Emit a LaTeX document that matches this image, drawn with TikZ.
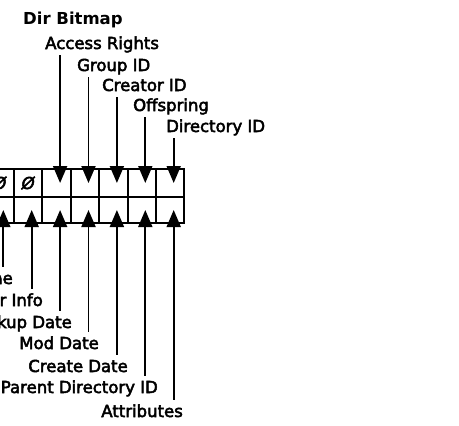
\documentclass[tikz,border=0pt]{standalone}
\usepackage{fontspec}
\setmainfont{DejaVu Sans}
\usetikzlibrary{arrows.meta,positioning}

\newcommand{\bitfont}{\fontsize{16.5}{19}\selectfont\special{pdf:literal direct 2 Tr 0.5 w}}

\begin{document}
\begin{tikzpicture}[
    x=1pt, y=-1pt,
    node distance=0pt,
    font=\bitfont,
    cell/.style={draw, line width=1.9pt, minimum width=28.4pt, inner sep=0pt, outer sep=0pt, font=\bitfont\itshape},
    upcell/.style={cell, minimum height=28pt},
    lowcell/.style={cell, minimum height=26pt},
    lbl/.style={inner xsep=0pt, inner ysep=2pt, text height=12pt, text depth=4pt},
    lbllow/.style={lbl, inner ysep=5pt},
    arrow/.style={-{Triangle[length=17pt, width=14pt]}, line width=1.9pt, transform canvas={xshift=3.5pt}},
]
    \useasboundingbox (0,0) rectangle (459,426);
    \clip (0,0) rectangle (459,426);

    \node[lbl, font=\fontsize{16.5}{19}\selectfont\bfseries, anchor=base west] (title) at (23,24) {Dir Bitmap};

    \node[upcell] (t14) at (-0.2,183) {Ø};
    \node[upcell, right=of t14] (t13) {Ø};
    \node[upcell, right=of t13] (t12) {};
    \node[upcell, right=of t12] (t11) {};
    \node[upcell, right=of t11] (t10) {};
    \node[upcell, right=of t10] (t9) {};
    \node[upcell, right=of t9] (t8) {};

    \node[lowcell, below=of t14] (b6) {};
    \node[lowcell, right=of b6] (b5) {};
    \node[lowcell, right=of b5] (b4) {};
    \node[lowcell, right=of b4] (b3) {};
    \node[lowcell, right=of b3] (b2) {};
    \node[lowcell, right=of b2] (b1) {};
    \node[lowcell, right=of b1] (b0) {};

    \node[lbl, anchor=base west] (access) at (45,49) {Access Rights};
    \node[lbl, anchor=base west] (group) at (77,71) {Group ID};
    \node[lbl, anchor=base west] (creator) at (102,91) {Creator ID};
    \node[lbl, anchor=base west] (offspring) at (133,111) {Offspring};
    \node[lbl, anchor=base west] (dirid) at (166,132) {Directory ID};

    \node[lbllow, anchor=base east] (longname) at (13,284) {Long Name};
    \node[lbllow, anchor=base east] (finder) at (43,306) {Finder Info};
    \node[lbllow, anchor=base east] (backup) at (72,328) {Backup Date};
    \node[lbllow, anchor=base east] (moddate) at (99,349) {Mod Date};
    \node[lbllow, anchor=base east] (create) at (128,372) {Create Date};
    \node[lbllow, anchor=base east] (parent) at (158,393) {Parent Directory ID};
    \node[lbllow, anchor=base east] (attrib) at (183,417) {Attributes};

    \draw[arrow] (access.south -| t12.center) -- (t12.center);
    \draw[arrow] (group.south -| t11.center) -- (t11.center);
    \draw[arrow] (creator.south -| t10.center) -- (t10.center);
    \draw[arrow] (offspring.south -| t9.center) -- (t9.center);
    \draw[arrow] (dirid.south -| t8.center) -- (t8.center);

    \draw[arrow] (longname.north -| b6.center) -- (b6.center);
    \draw[arrow] (finder.north -| b5.center) -- (b5.center);
    \draw[arrow] (backup.north -| b4.center) -- (b4.center);
    \draw[arrow] (moddate.north -| b3.center) -- (b3.center);
    \draw[arrow] (create.north -| b2.center) -- (b2.center);
    \draw[arrow] (parent.north -| b1.center) -- (b1.center);
    \draw[arrow] (attrib.north -| b0.center) -- (b0.center);
\end{tikzpicture}
\end{document}
